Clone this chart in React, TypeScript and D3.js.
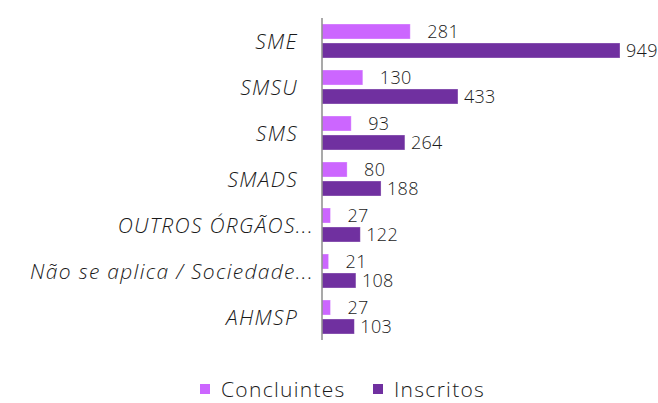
import React, { useEffect, useRef } from "react";
import * as d3 from "d3";

const categories = ["SME", "SMSU", "SMS", "SMADS", "OUTROS ÓRGÃOS...", "Não se aplica / Sociedade...", "AHMSP"];
const seriesNames = ["Concluintes", "Inscritos"];
const concluintes = [281, 130, 93, 80, 27, 21, 27];
const inscritos = [949, 433, 264, 188, 122, 108, 103];

const colors: Record<string, string> = { Concluintes: "#cc66ff", Inscritos: "#7030a0" };

export default function App() {
  const ref = useRef<SVGSVGElement>(null);

  useEffect(() => {
    const svg = d3.select(ref.current);
    svg.selectAll("*").remove();

    const width = 658;
    const height = 403;
    const font = "'Open Sans', sans-serif";
    const axisX = 322;

    const x = d3.scaleLinear().domain([0, d3.max(inscritos) as number]).range([axisX, 620]);
    const y = d3.scaleBand().domain(categories).range([18, 340]);
    const inner = d3.scaleBand().domain(seriesNames).range([0, y.bandwidth()]).paddingInner(0.21).paddingOuter(0.316);

    const rows = categories.map((c, i) => ({ cat: c, Concluintes: concluintes[i], Inscritos: inscritos[i] }));

    const g = svg.append("g");

    rows.forEach((r) => {
      seriesNames.forEach((s) => {
        const v = (r as any)[s] as number;
        const y0 = (y(r.cat) as number) + (inner(s) as number);
        g.append("rect")
          .attr("x", x(0)).attr("y", y0)
          .attr("width", x(v) - x(0)).attr("height", inner.bandwidth())
          .attr("fill", colors[s])
          .attr("stroke", "#ffffff").attr("stroke-opacity", 0.4).attr("stroke-width", 0.8);
        g.append("text")
          .attr("x", x(v) + (s === "Concluintes" ? 17 : 6))
          .attr("y", y0 + inner.bandwidth() / 2)
          .attr("dy", "0.36em")
          .style("font-family", font).style("font-size", "18px").style("font-weight", 300)
          .style("letter-spacing", "0.3px")
          .attr("fill", "#1a1a1a")
          .text(v);
      });
      g.append("text")
        .attr("x", r.cat.endsWith("...") ? 314 : 298)
        .attr("y", (y(r.cat) as number) + y.bandwidth() / 2)
        .attr("dy", "0.36em")
        .attr("text-anchor", "end")
        .style("font-family", font).style("font-size", "21px").style("font-style", "italic").style("font-weight", 300)
        .style("letter-spacing", "1.3px")
        .attr("fill", "#1a1a1a")
        .text(r.cat);
    });

    // vertical axis line
    svg.append("line").attr("x1", axisX).attr("x2", axisX).attr("y1", 18).attr("y2", 340)
      .attr("stroke", "#8c8c8c").attr("stroke-width", 1.5);

    // legend
    const legendX = [200, 373];
    seriesNames.forEach((s, i) => {
      svg.append("rect").attr("x", legendX[i]).attr("y", 384).attr("width", 10).attr("height", 10).attr("fill", colors[s]);
      svg.append("text").attr("x", legendX[i] + 21).attr("y", 397)
        .style("font-family", font).style("font-size", "21px").style("font-weight", 300)
        .style("letter-spacing", "1.3px")
        .attr("fill", "#1a1a1a").text(s);
    });

    svg.attr("width", width).attr("height", height);
  }, []);

  return (
    <svg ref={ref} width={658} height={403} style={{ position: "absolute", left: 0, top: 0, background: "#fff" }}></svg>
  );
}
